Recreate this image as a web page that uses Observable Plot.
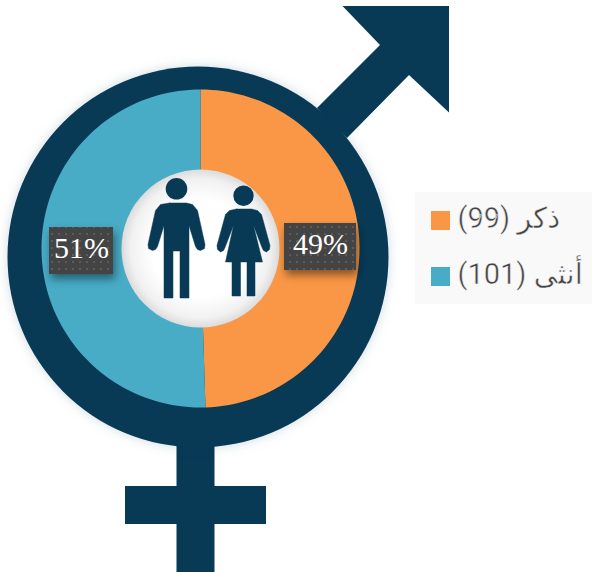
<!DOCTYPE html>
<html lang="ar">
<head>
<meta charset="utf-8">
<script src="https://cdn.jsdelivr.net/npm/d3@7"></script>
<script src="https://cdn.jsdelivr.net/npm/@observablehq/plot@0.6"></script>
<style>html,body{margin:0;padding:0;background:#fff;overflow:hidden}</style>
</head>
<body>
<div id="chart"></div>
<script>
const categories = ["ذكر", "أنثى"];
const counts = [99, 101];
const colors = ["#f99746", "#48acc7"];
const percentLabels = ["49%", "51%"];
const navy = "#083a56";

// pictogram outlines
const arrowShape = [[316.5,107.5],[379.5,44.5],[342,5.5],[448.5,5.5],[448.5,112],[408.5,74.5],[346.5,137.5]];
const crossShape = [[176,440],[214,440],[214,485.5],[265.5,485.5],[265.5,523.5],[214,523.5],[214,572],[176,572],[176,523.5],[124.5,523.5],[124.5,485.5],[176,485.5]];
const manShape = [[169,202.5],[186,202.5],[192,204],[197,210],[204.5,244],[204,248],[200,250],[197,249],[195,246],[188.5,225],[188.5,297.5],[179.5,297.5],[179.5,250.5],[172.5,250.5],[172.5,297.5],[163.5,297.5],[163.5,225],[157,246],[155,249],[152,250],[148,248],[147.5,244],[155,210],[160,204]];
const womanShape = [[236,208.5],[251,208.5],[257,210],[261,214],[269.5,245],[269,249],[266,251.5],[263,250],[261.5,247],[253,225],[262,261.5],[254.5,261.5],[254.5,295.5],[246.5,295.5],[246.5,261.5],[240,261.5],[240,295.5],[231.5,295.5],[231.5,261.5],[225,261.5],[233,225],[224.5,247],[223,250],[220,251.5],[217,249],[216.5,245],[225,214],[229,210]];
const manHead = [{x:176,y:188.3}];
const womanHead = [{x:243,y:195.3}];

const pieCenter = {x:200, y:248, r:159};
const arcs = d3.pie().sort(null).value(d => d)(counts);
const slices = arcs.flatMap((a, i) => {
  const n = 90, pts = [{category: categories[i], x: pieCenter.x, y: pieCenter.y}];
  for (let k = 0; k <= n; k++) {
    const t = a.startAngle + (a.endAngle - a.startAngle) * k / n;
    pts.push({category: categories[i], x: pieCenter.x + pieCenter.r * Math.sin(t), y: pieCenter.y - pieCenter.r * Math.cos(t)});
  }
  return pts;
});

const boxes = [
  {label: percentLabels[0], x1:284, x2:356, y1:223, y2:270},
  {label: percentLabels[1], x1:49, x2:113, y1:227, y2:274}
];
const legendRows = [
  {category: categories[0], text: `${categories[0]} (${counts[0]})`, y1:211, y2:230},
  {category: categories[1], text: `${categories[1]} (${counts[1]})`, y1:267, y2:286}
];
const shape = s => s.map(([x, y]) => ({x, y}));
const silhouette = (s, w = 0) => Plot.line(shape(s).concat(shape(s).slice(0,1)), {x:"x", y:"y", fill:navy, stroke: w ? navy : "none", strokeWidth:w, strokeLinejoin:"round"});

const defs = () => {
  const g = d3.create("svg:defs");
  const rg = g.append("radialGradient").attr("id","glow");
  rg.append("stop").attr("offset","0.62").attr("stop-color","#ffffff");
  rg.append("stop").attr("offset","0.88").attr("stop-color","#f1f1f1");
  rg.append("stop").attr("offset","1").attr("stop-color","#dcdcdc");
  const p = g.append("pattern").attr("id","dots").attr("width",7).attr("height",7).attr("patternUnits","userSpaceOnUse");
  p.append("rect").attr("width",7).attr("height",7).attr("fill","#444444");
  p.append("rect").attr("x",2).attr("y",2).attr("width",2).attr("height",2).attr("fill","#5c5c5c");
  return g.node();
};

const plot = Plot.plot({
  width: 592, height: 572, margin: 0,
  x: {domain:[0,592], range:[0,592], axis:null},
  y: {domain:[0,572], range:[0,572], axis:null},
  color: {domain: categories, range: colors},
  style: {background:"#fff", direction:"rtl"},
  marks: [
    defs,
    silhouette(arrowShape),
    silhouette(crossShape),
    Plot.dot([{x:197.5,y:256.5}], {x:"x", y:"y", r:190.5, fill:navy, stroke:"none", imageFilter:"drop-shadow(0 0 6px rgba(8,58,86,.18))"}),
    Plot.line(slices, {x:"x", y:"y", fill:"category", stroke:"none"}),
    Plot.dot([pieCenter], {x:"x", y:"y", r:79, fill:"url(#glow)", stroke:"none"}),
    Plot.dot(manHead, {x:"x", y:"y", r:10.8, fill:navy, stroke:"none"}),
    Plot.dot(womanHead, {x:"x", y:"y", r:10.2, fill:navy, stroke:"none"}),
    silhouette(manShape, 0.5),
    silhouette(womanShape, 0.5),
    Plot.rect(boxes, {x1:"x1", x2:"x2", y1:"y1", y2:"y2", fill:"url(#dots)", imageFilter:"drop-shadow(2px 5px 4px rgba(0,0,0,.45))"}),
    Plot.text(boxes, {x: d => (d.x1+d.x2)/2, y: d => (d.y1+d.y2)/2 - 2.5, text:"label", fill:"#fff", fontSize:30, fontFamily:"'Liberation Serif'"}),
    Plot.rect([{x1:415,x2:592,y1:192,y2:304}], {x1:"x1", x2:"x2", y1:"y1", y2:"y2", fill:"#f9f9f9"}),
    Plot.rect(legendRows, {x1:431, x2:450, y1:"y1", y2:"y2", fill:"category"}),
    // the page runs right-to-left, so the "end" anchor is the left edge of each label
    Plot.text(legendRows, {x:457, y: d => d.y1 + 7, text:"text", textAnchor:"end", fill:"#444", stroke:"#f9f9f9", strokeWidth:0.5, paintOrder:"fill", fontSize:29, fontWeight:400, fontFamily:"Roboto, 'DejaVu Sans', sans-serif"})
  ]
});
document.getElementById("chart").append(plot);
</script>
</body>
</html>
